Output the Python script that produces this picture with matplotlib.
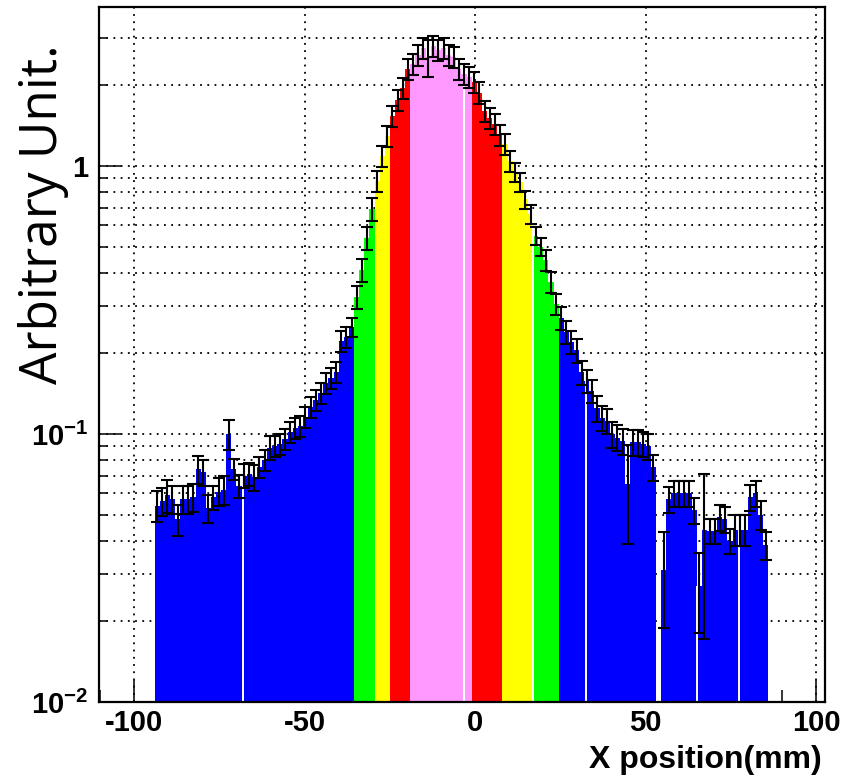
import numpy as np
import matplotlib
matplotlib.use('Agg')
import matplotlib.pyplot as plt
from matplotlib.ticker import FixedLocator, FixedFormatter, LogLocator, NullFormatter

# histogram binning (mm)
x_low = -94.0
bin_width = 1.5

# bin contents, 120 bins from -94 mm to 86 mm (nan = empty bin)
counts = [
    0.054, 0.056, 0.059, 0.057, 0.048, 0.057, 0.057, 0.058, 0.074, 0.072,
    0.053, 0.058, 0.061, 0.062, 0.100, 0.074, 0.064, 0.070, 0.071, 0.069,
    0.075, 0.080, 0.089, 0.090, 0.092, 0.096, 0.102, 0.105, 0.107, 0.116,
    0.126, 0.134, 0.142, 0.155, 0.162, 0.171, 0.223, 0.230, 0.250, 0.325,
    0.410, 0.540, 0.690, 0.880, 1.090, 1.290, 1.540, 1.770, 1.950, 2.300,
    2.400, 2.600, 2.750, 2.550, 2.800, 2.700, 2.750, 2.600, 2.550, 2.300,
    2.200, 2.150, 2.050, 1.880, 1.600, 1.510, 1.430, 1.310, 1.210, 1.040,
    0.950, 0.870, 0.750, 0.660, 0.550, 0.500, 0.446, 0.368, 0.306, 0.271,
    0.241, 0.220, 0.205, 0.170, 0.158, 0.145, 0.125, 0.115, 0.112, 0.100,
    0.097, 0.094, 0.065, 0.093, 0.093, 0.092, 0.090, 0.075, np.nan, 0.031,
    0.057, 0.060, 0.060, 0.060, 0.060, 0.052, 0.027, 0.044, 0.0435, 0.0435,
    0.049, 0.048, 0.040, 0.044, 0.044, 0.044, 0.058, 0.060, 0.050, 0.0385,
]

# relative errors per bin
rel_err = [
    0.13, 0.12, 0.14, 0.12, 0.13, 0.12, 0.12, 0.12, 0.12, 0.11,
    0.12, 0.10, 0.12, 0.12, 0.13, 0.09, 0.10, 0.10, 0.10, 0.11,
    0.09, 0.09, 0.10, 0.09, 0.09, 0.09, 0.09, 0.09, 0.09, 0.09,
    0.09, 0.09, 0.09, 0.09, 0.09, 0.09, 0.09, 0.09, 0.08, 0.10,
    0.10, 0.10, 0.10, 0.09, 0.09, 0.09, 0.09, 0.09, 0.09, 0.09,
    0.09, 0.09, 0.09, 0.16, 0.09, 0.09, 0.09, 0.09, 0.09, 0.09,
    0.09, 0.09, 0.09, 0.09, 0.09, 0.09, 0.09, 0.09, 0.09, 0.09,
    0.08, 0.08, 0.08, 0.08, 0.08, 0.08, 0.09, 0.09, 0.09, 0.10,
    0.10, 0.10, 0.10, 0.10, 0.10, 0.10, 0.11, 0.11, 0.11, 0.11,
    0.11, 0.11, 0.40, 0.11, 0.11, 0.11, 0.11, 0.11, np.nan, 0.39,
    0.11, 0.11, 0.11, 0.11, 0.11, 0.11, 0.33, 0.61, 0.11, 0.11,
    0.11, 0.11, 0.11, 0.13, 0.13, 0.13, 0.11, 0.11, 0.12, 0.12,
]

# colour bands (left edges of each band after the first, mm)
band_edges = [-35.5, -29.5, -25.0, -19.0, -1.0, 8.0, 17.0, 24.5]
band_colors = ['#0000ff', '#00ff00', '#ffff00', '#ff0000', '#ff99ff',
               '#ff0000', '#ffff00', '#00ff00', '#0000ff']

# thin white seams in the filled histogram (mm)
seam_x = [-68.0, -3.2, 16.9, 32.6, 65.0, 77.3]

plt.rcParams['font.family'] = ['Liberation Sans', 'DejaVu Sans']
plt.rcParams['axes.unicode_minus'] = False
plt.rcParams['mathtext.fontset'] = 'custom'
plt.rcParams['mathtext.rm'] = 'Liberation Sans'
plt.rcParams['mathtext.bf'] = 'Liberation Sans:bold'

counts = np.array(counts, dtype=float)
rel_err = np.array(rel_err, dtype=float)
n = len(counts)
left = x_low + bin_width * np.arange(n)
centers = left + bin_width / 2
ok = np.isfinite(counts)
colors = [band_colors[np.searchsorted(band_edges, e + 1e-6)] for e in left]

fig = plt.figure(figsize=(8.43, 7.76), dpi=100)
ax = fig.add_axes([99 / 843, 1 - 702 / 776, 726 / 843, 695 / 776])
ax.set_yscale('log')

ax.bar(left[ok], counts[ok], width=bin_width, align='edge',
       color=[c for c, k in zip(colors, ok) if k], linewidth=0,
       antialiased=False, zorder=2)

# white seams, only inside the fill
for sx in seam_x:
    i = int((sx - x_low) // bin_width)
    ax.vlines(sx, 0.005, counts[i], color='white', lw=1.4, zorder=3)

ax.errorbar(centers[ok], counts[ok], yerr=counts[ok] * rel_err[ok], fmt='none',
            ecolor='black', elinewidth=1.5, capsize=4.6, capthick=1.5, zorder=4)

ax.set_xlim(-110.3, 102.6)
ax.set_ylim(0.01, 3.92)

ax.xaxis.set_major_locator(FixedLocator([-100, -50, 0, 50, 100]))
ax.xaxis.set_major_formatter(FixedFormatter(['-100', '-50', '0', '50', '100']))
ax.xaxis.set_minor_locator(FixedLocator(np.arange(-110, 101, 10)))
ax.yaxis.set_major_locator(FixedLocator([0.01, 0.1, 1]))
ax.yaxis.set_major_formatter(FixedFormatter([r'$\mathbf{10^{-2}}$', r'$\mathbf{10^{-1}}$', '1']))
ax.yaxis.set_minor_locator(LogLocator(base=10, subs=np.arange(2, 10)))
ax.yaxis.set_minor_formatter(NullFormatter())

ax.tick_params(axis='both', which='both', direction='in', top=False, right=False,
               width=1.1, colors='black')
ax.tick_params(axis='x', which='major', length=16, pad=5, labelsize=21)
ax.tick_params(axis='x', which='minor', length=8.5)
ax.tick_params(axis='y', which='major', length=16, pad=8, labelsize=21)
ax.tick_params(axis='y', which='minor', length=6)
for lab in ax.get_xticklabels() + ax.get_yticklabels():
    lab.set_fontweight('bold')

ax.set_axisbelow(True)
ax.grid(True, axis='x', which='major', color='black', linestyle=(0, (1, 3.0)), lw=1.3)
ax.grid(True, axis='y', which='both', color='black', linestyle=(0, (1, 3.0)), lw=1.3)

for s in ax.spines.values():
    s.set_linewidth(1.6)
    s.set_zorder(5)

fig.text(822 / 843, 8 / 776, 'X position(mm)', ha='right', va='baseline',
         fontsize=23, fontweight='bold')
fig.text(44 / 843, 1 - 214 / 776, 'Arbitrary Unit.', rotation=90, ha='center',
         va='center', fontsize=37, family=['Open Sans', 'DejaVu Sans'])

fig.savefig('out.png', dpi=100)
